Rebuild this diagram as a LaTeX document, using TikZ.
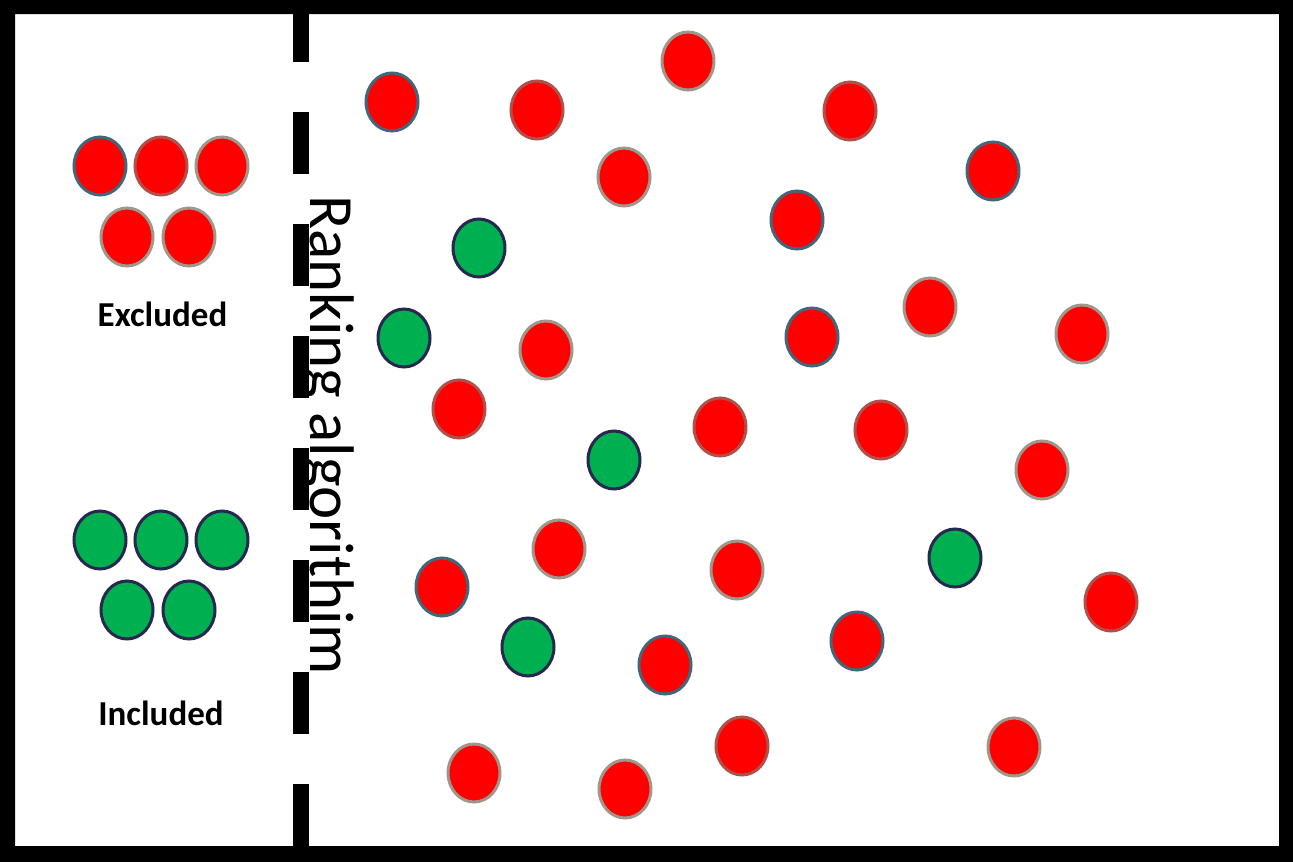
\documentclass[tikz,border=0pt]{standalone}
\usepackage{fontspec}
\setmainfont{Carlito}
\usetikzlibrary{shapes.geometric}
\definecolor{dotred}{HTML}{FF0000}
\definecolor{dotgreen}{HTML}{00B050}
\definecolor{rimblue}{HTML}{41677A}
\definecolor{rimbrown}{HTML}{B0504A}
\definecolor{rimgrey}{HTML}{A0968A}
\definecolor{rimnavy}{HTML}{25284F}
\tikzset{
  dot/.style={ellipse, minimum width=52bp, minimum height=58bp, inner sep=0pt, line width=3bp},
  rb/.style={dot, fill=dotred, draw=rimblue},
  rw/.style={dot, fill=dotred, draw=rimbrown},
  rg/.style={dot, fill=dotred, draw=rimgrey},
  gd/.style={dot, fill=dotgreen, draw=rimnavy},
  legendlabel/.style={font=\bfseries\fontsize{35bp}{40bp}\selectfont, anchor=base, inner sep=0pt},
  divider/.style={line width=16bp, dash pattern=on 62bp off 50bp},
}
\begin{document}
\begin{tikzpicture}[x=1bp, y=-1bp]
\useasboundingbox (0,0) rectangle (1293,862);
\fill[white] (0,0) rectangle (1293,862);
% divider
\coordinate (dtop) at (301,0);
\coordinate (dbot) at (301,862);
\draw[divider] (dtop) -- (dbot);
\node[anchor=base west, rotate=-90, inner sep=0pt, font=\fontsize{63bp}{70bp}\selectfont] (rank) at (310,195) {Ranking algorithim};
% legend
\node[rb] (e1) at (100,166) {};
\node[rw] (e2) at (161,166) {};
\node[rg] (e3) at (222,166) {};
\node[rg] (e4) at (127,237) {};
\node[rg] (e5) at (189,237) {};
\node[legendlabel] (excl) at (162.5,326) {Excluded};
\node[gd] (i1) at (100,540) {};
\node[gd] (i2) at (161,540) {};
\node[gd] (i3) at (222,540) {};
\node[gd] (i4) at (127,610) {};
\node[gd] (i5) at (189,610) {};
\node[legendlabel] (incl) at (161,725) {Included};
% scatter
\node[rb] (r1) at (392,102) {};
\node[rw] (r2) at (537,110) {};
\node[rg] (r3) at (688,61) {};
\node[rg] (r4) at (624,177) {};
\node[rw] (r5) at (850,111) {};
\node[rb] (r6) at (993,171) {};
\node[rb] (r7) at (797,220) {};
\node[rb] (r8) at (812,337) {};
\node[rg] (r9) at (930,307) {};
\node[rg] (r10) at (1082,334) {};
\node[rg] (r11) at (546,350) {};
\node[rw] (r12) at (459,409) {};
\node[rw] (r13) at (720,427) {};
\node[rw] (r14) at (881,430) {};
\node[rg] (r15) at (1042,470) {};
\node[rw] (r16) at (1111,602) {};
\node[rb] (r17) at (857,641) {};
\node[rb] (r18) at (442,587) {};
\node[rg] (r19) at (559,549) {};
\node[rg] (r20) at (737,570) {};
\node[rb] (r21) at (665,665) {};
\node[rg] (r22) at (474,773) {};
\node[rg] (r23) at (625,789) {};
\node[rw] (r24) at (742,746) {};
\node[rg] (r25) at (1014,747) {};
\node[gd] (g1) at (479,248) {};
\node[gd] (g2) at (404,338) {};
\node[gd] (g3) at (614,460) {};
\node[gd] (g4) at (955,558) {};
\node[gd] (g5) at (528,647) {};
% frame
\fill[black, even odd rule] (0,0) rectangle (1293,862) (15,14) rectangle (1279,846);
\end{tikzpicture}
\end{document}
